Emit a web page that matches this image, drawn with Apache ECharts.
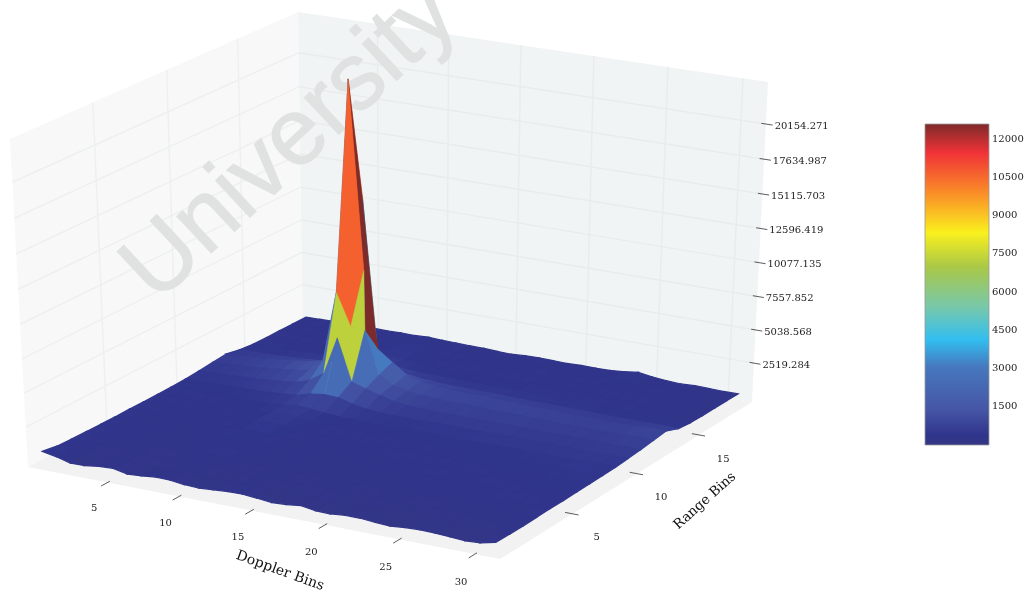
<!DOCTYPE html>
<html><head><meta charset="utf-8">
<style>html,body{margin:0;padding:0;background:#fff}#c{width:1027px;height:594px;filter:blur(0.4px)}</style>
<script src="https://cdn.jsdelivr.net/npm/echarts@6/dist/echarts.min.js"></script>
</head><body><div id="c"></div>
<script>
const dopplerTicks=[5,10,15,20,25,30];
const rangeTicks=[5,10,15];
const heightTicks=[2519.284,5038.568,7557.852,10077.135,12596.419,15115.703,17634.987,20154.271];
const colorbarTicks=[1500,3000,4500,6000,7500,9000,10500,12000];
const colorLevels=[11,400,1380,3070,4130,5420,6990,8320,9890,11450,12588];
const colorRamp=[[52,54,132],[48,53,140],[70,85,165],[70,120,190],[50,190,240],[120,200,170],[170,200,70],[250,240,30],[250,140,40],[240,50,55],[125,42,42]];
const dopplerLimits=[-0.65,31.65];
const rangeLimits=[-0.4,19.4];
const heightLimits=[-470,23140];
// magnitude per range bin (rows, range 0..19) and doppler bin (columns, 0..31)
const r00=[600,400,120,140,300,350,130,200,320,290,160,120,200,280,290,200,90,150,280,110,90,200,200,110,40,150,200,170,110,40,110,350];
const r01=[420,340,220,200,260,300,190,210,300,290,210,180,220,260,280,220,160,190,260,190,170,220,220,180,130,190,220,210,170,130,170,330];
const r02=[380,320,280,260,240,260,230,230,270,300,260,220,230,250,260,240,210,230,260,240,220,240,260,240,220,240,250,240,250,250,270,320];
const r03=[360,330,300,280,270,260,250,260,290,340,290,260,250,260,270,260,240,250,280,260,250,260,280,270,260,270,290,270,290,300,310,340];
const r04=[340,320,310,290,280,270,260,280,310,370,320,280,260,270,290,270,260,270,290,280,270,280,310,300,290,300,320,310,320,330,340,370];
const r05=[330,320,310,300,290,280,280,300,340,420,350,300,280,290,300,290,280,290,310,300,290,310,330,320,310,320,340,330,350,360,360,360];
const r06=[350,340,320,310,300,290,300,320,370,470,390,330,300,310,320,310,300,310,330,320,320,330,350,340,330,340,360,350,370,380,390,390];
const r07=[340,330,330,320,310,320,330,360,430,550,450,370,330,330,340,330,320,330,350,340,340,350,370,370,360,370,390,380,400,400,410,400];
const r08=[350,340,340,330,330,340,350,380,470,600,500,400,360,340,350,340,340,350,370,360,360,370,400,390,390,400,420,420,430,440,440,420];
const r09=[360,350,350,350,360,380,400,440,520,680,600,480,410,390,380,380,370,390,410,400,400,410,440,430,430,440,460,450,470,480,480,440];
const r10=[400,410,420,440,470,500,540,600,700,1000,1150,1100,800,620,540,500,490,500,530,520,510,520,540,530,520,520,540,530,540,560,570,520];
const r11=[480,510,540,590,650,720,820,950,1300,2000,4900,1750,1400,1100,840,720,650,640,650,640,630,630,640,620,600,600,610,590,590,610,660,600];
const r12=[580,620,680,760,850,960,1100,1300,2250,7600,5200,5100,1900,1300,1050,930,860,820,830,800,780,770,770,740,720,700,700,680,680,700,800,720];
const r13=[680,720,780,860,960,1080,1240,1480,3400,22673,8900,3100,2300,1500,1220,1080,1000,960,950,920,900,870,860,830,810,800,790,770,780,800,900,840];
const r14=[460,470,490,520,570,640,730,860,1100,13500,2250,1200,880,740,660,620,590,580,580,560,540,530,530,510,500,490,480,470,470,470,490,450];
const r15=[350,360,370,380,400,430,470,510,600,800,620,500,440,410,400,390,380,380,390,380,370,360,370,360,350,350,340,340,340,340,330,320];
const r16=[320,330,330,340,350,360,380,400,440,520,440,390,360,340,330,330,320,330,340,330,320,320,340,330,320,320,330,310,300,310,290,290];
const r17=[330,330,340,340,350,360,370,390,410,470,410,370,350,330,330,320,330,330,350,330,320,330,340,340,340,340,350,320,300,310,280,280];
const r18=[310,320,330,330,340,340,350,360,380,420,380,350,330,320,310,320,310,330,340,320,310,330,350,360,380,370,350,310,290,300,270,280];
const r19=[300,320,340,350,330,360,340,380,360,420,370,340,320,310,260,230,300,330,310,280,320,300,320,410,560,400,300,240,300,280,250,260];
const surfaceRows=[r00,r01,r02,r03,r04,r05,r06,r07,r08,r09,r10,r11,r12,r13,r14,r15,r16,r17,r18,r19];
const facetLevels=[[9,12,10650],[9,11,7300],[10,11,7300],[9,13,12588],[10,13,12588],[8,12,2700],[8,11,2500],[9,10,2500],[10,10,2500]];
// facets whose two triangles read differently: [doppler, range, level, level]
const facetSplits=[[10,12,7300,12588]];
const cornerSamples=[ // [doppler 0/1, range 0/1, height 0/1, px, py]
 [0,0,0,28,467],[1,0,0,500,559],[1,1,0,752,402],[0,0,1,10,139],[0,1,1,298,12],[1,1,1,768,82]];

function solve(A,b){const n=b.length;for(let i=0;i<n;i++){let m=i;for(let k=i+1;k<n;k++)if(Math.abs(A[k][i])>Math.abs(A[m][i]))m=k;
 [A[i],A[m]]=[A[m],A[i]];[b[i],b[m]]=[b[m],b[i]];for(let k=i+1;k<n;k++){const f=A[k][i]/A[i][i];for(let j=i;j<n;j++)A[k][j]-=f*A[i][j];b[k]-=f*b[i];}}
 const x=Array(n).fill(0);for(let i=n-1;i>=0;i--){let s=b[i];for(let j=i+1;j<n;j++)s-=A[i][j]*x[j];x[i]=s/A[i][i];}return x;}
function fitCamera(){const rows=[],rhs=[];cornerSamples.forEach(([a,b,c,px,py])=>{
 rows.push([a,b,c,1,0,0,0,0,-px*a,-px*b,-px*c]);rhs.push(px);
 rows.push([0,0,0,0,a,b,c,1,-py*a,-py*b,-py*c]);rhs.push(py);});
 const N=Array.from({length:11},()=>Array(11).fill(0)),v=Array(11).fill(0);
 rows.forEach((r,i)=>{for(let a=0;a<11;a++){v[a]+=r[a]*rhs[i];for(let b=0;b<11;b++)N[a][b]+=r[a]*r[b];}});
 for(let a=0;a<11;a++)N[a][a]+=1e-9;
 return solve(N,v);}
const cam=fitCamera();
function unit(d,r,h){return[(d-dopplerLimits[0])/(dopplerLimits[1]-dopplerLimits[0]),(r-rangeLimits[0])/(rangeLimits[1]-rangeLimits[0]),(h-heightLimits[0])/(heightLimits[1]-heightLimits[0])];}
function depth(d,r,h){const[a,b,c]=unit(d,r,h);return cam[8]*a+cam[9]*b+cam[10]*c+1;}
function proj(d,r,h){const[a,b,c]=unit(d,r,h),w=cam[8]*a+cam[9]*b+cam[10]*c+1;
 return[(cam[0]*a+cam[1]*b+cam[2]*c+cam[3])/w,(cam[4]*a+cam[5]*b+cam[6]*c+cam[7])/w];}
function colorAt(v){const L=colorLevels,C=colorRamp;if(v<=L[0])return`rgb(${C[0]})`;
 for(let i=1;i<L.length;i++)if(v<=L[i]){const t=(v-L[i-1])/(L[i]-L[i-1]);return'rgb('+C[i].map((c,k)=>Math.round(C[i-1][k]+(c-C[i-1][k])*t)).join(',')+')';}
 return`rgb(${C[C.length-1]})`;}

const facets=[];const nearSign=depth(dopplerLimits[1],rangeLimits[0],0)>depth(dopplerLimits[0],rangeLimits[1],0)?1:-1;
for(let r=0;r<surfaceRows.length-1;r++)for(let d=0;d<surfaceRows[0].length-1;d++){
 const z=[surfaceRows[r][d],surfaceRows[r][d+1],surfaceRows[r+1][d+1],surfaceRows[r+1][d]];
 const o=facetLevels.find(f=>f[0]===d&&f[1]===r);
 const s=facetSplits.find(f=>f[0]===d&&f[1]===r);
 const mean=(z[0]+z[1]+z[2]+z[3])/4;
 facets.push({d,r,z,split:s,level:o?o[2]:mean,key:depth(d+0.5,r+0.5,0)});}
facets.sort((a,b)=>(a.key-b.key)*nearSign);

const D0=dopplerLimits[0],D1=dopplerLimits[1],R0=rangeLimits[0],R1=rangeLimits[1],H0=heightLimits[0],H1=heightLimits[1];
const paneStyle={left:'#f8f8f8',right:'#f1f4f4',floor:'#f2f2f2'};
const gridLeft='#eef0f0',gridRight='#e8ecec';

function paneItem(params,api){
 const c=p=>api.coord(proj(...p)),ch=[];
 const poly=(pts,fill)=>ch.push({type:'polygon',shape:{points:pts.map(c)},style:{fill,stroke:null}});
 const line=(a,b,color)=>{const p=c(a),q=c(b);ch.push({type:'line',shape:{x1:p[0],y1:p[1],x2:q[0],y2:q[1]},style:{stroke:color,lineWidth:1.5}});};
 poly([[D0,R0,H0],[D0,R1,H0],[D0,R1,H1],[D0,R0,H1]],paneStyle.left);
 poly([[D0,R1,H0],[D1,R1,H0],[D1,R1,H1],[D0,R1,H1]],paneStyle.right);
 poly([[D0,R0,H0],[D1,R0,H0],[D1,R1,H0],[D0,R1,H0]],paneStyle.floor);
 rangeTicks.forEach(r=>{line([D0,r,H0],[D0,r,H1],gridLeft);});
 dopplerTicks.forEach(d=>{line([d,R1,H0],[d,R1,H1],gridRight);});
 heightTicks.forEach(h=>{line([D0,R0,h],[D0,R1,h],gridLeft);line([D0,R1,h],[D1,R1,h],gridRight);});
 return{type:'group',children:ch};
}
function facetItem(params,api){
 const f=facets[params.dataIndex];
 const pts=[[f.d,f.r,f.z[0]],[f.d+1,f.r,f.z[1]],[f.d+1,f.r+1,f.z[2]],[f.d,f.r+1,f.z[3]]].map(p=>api.coord(proj(...p)));
 if(f.split){const a=colorAt(f.split[2]),b=colorAt(f.split[3]);
  return{type:'group',children:[
   {type:'polygon',shape:{points:[pts[1],pts[2],pts[3]]},style:{fill:b,stroke:b,lineWidth:0.5}},
   {type:'polygon',shape:{points:[pts[0],pts[1],pts[3]]},style:{fill:a,stroke:a,lineWidth:0.5}}]};}
 const col=colorAt(f.level);
 return{type:'polygon',shape:{points:pts},style:{fill:col,stroke:col,lineWidth:f.level>2000?0.5:1.2}};
}
const serif='"DejaVu Serif"';
function axisItem(params,api){
 const ch=[];
 const tick=(a,b)=>{const p=api.coord(proj(...a)),q=api.coord(proj(...b));ch.push({type:'line',shape:{x1:p[0],y1:p[1],x2:q[0],y2:q[1]},style:{stroke:'#333',lineWidth:0.8}});};
 const label=(t,p,o)=>ch.push({type:'text',x:p[0]+o[0],y:p[1]+o[1],style:{text:t,fontFamily:serif,fontSize:10,fill:'#222',align:o[2]||'center',verticalAlign:'middle'}});
 dopplerTicks.forEach(d=>{tick([d,R0-0.45,H0],[d,R0+0.15,H0]);label(String(d),api.coord(proj(d,R0+0.3,H0)),[-18,28+d*0.1]);});
 rangeTicks.forEach(r=>{tick([D1-0.5,r,H0],[D1+0.4,r,H0]);label(String(r),api.coord(proj(D1,r,H0)),[24,24]);});
 heightTicks.forEach(h=>{tick([D1-0.3,R1,h],[D1+0.45,R1,h]);label(h.toFixed(3),api.coord(proj(D1+0.45,R1,h)),[2,1,'left']);});
 ch.push({type:'text',x:280,y:571,rotation:-20*Math.PI/180,style:{text:'Doppler Bins',fontFamily:serif,fontSize:14,fill:'#111',align:'center',verticalAlign:'middle'}});
 ch.push({type:'text',x:705,y:501,rotation:42*Math.PI/180,style:{text:'Range Bins',fontFamily:serif,fontSize:13.5,fill:'#111',align:'center',verticalAlign:'middle'}});
 return{type:'group',children:ch};
}
function markItem(params,api){
 return{type:'text',x:291,y:143,rotation:43*Math.PI/180,style:{text:'University',fontFamily:'"Liberation Sans"',fontSize:95,fill:'#e0e2e2',stroke:'#e0e2e2',lineWidth:1.2,align:'center',verticalAlign:'middle'}};
}
function barItem(params,api){
 const top=colorLevels[colorLevels.length-1];
 const a=api.coord([0,top]),b=api.coord([1,0]);
 const stops=colorLevels.map((l,i)=>({offset:1-l/top,color:`rgb(${colorRamp[i]})`})).reverse();
 return{type:'rect',shape:{x:a[0],y:a[1],width:b[0]-a[0],height:b[1]-a[1]},style:{fill:new echarts.graphic.LinearGradient(0,0,0,1,stops),stroke:'#9a9a9a',lineWidth:0.8}};
}
const chart=echarts.init(document.getElementById('c'),null,{renderer:'canvas'});
chart.setOption({
 animation:false,backgroundColor:'#fff',
 grid:[{left:0,top:0,width:1027,height:594},{left:925,top:124,width:64,height:321}],
 xAxis:[{type:'value',min:0,max:1027,show:false},{type:'value',gridIndex:1,min:0,max:1,show:false}],
 yAxis:[{type:'value',min:0,max:594,inverse:true,show:false},
  {type:'value',gridIndex:1,min:0,max:colorLevels[colorLevels.length-1],position:'right',
   axisLine:{show:false,onZero:false},splitLine:{show:false},
   axisTick:{inside:true,length:3,customValues:colorbarTicks,lineStyle:{color:'#333',width:0.8}},
   axisLabel:{customValues:colorbarTicks,margin:3,fontFamily:serif,fontSize:10,color:'#222',formatter:v=>String(v)}}],
 series:[
  {type:'custom',z:1,coordinateSystem:'cartesian2d',silent:true,renderItem:paneItem,data:[[0,0]],clip:false},
  {type:'custom',z:2,coordinateSystem:'cartesian2d',silent:true,renderItem:markItem,data:[[0,0]],clip:false},
  {type:'custom',z:3,coordinateSystem:'cartesian2d',silent:true,renderItem:facetItem,data:facets.map(f=>[f.d,f.r]),clip:false},
  {type:'custom',z:4,coordinateSystem:'cartesian2d',silent:true,renderItem:axisItem,data:[[0,0]],clip:false},
  {type:'custom',z:1,xAxisIndex:1,yAxisIndex:1,coordinateSystem:'cartesian2d',silent:true,renderItem:barItem,data:[[0,0]],clip:false}
 ]
});
</script></body></html>
